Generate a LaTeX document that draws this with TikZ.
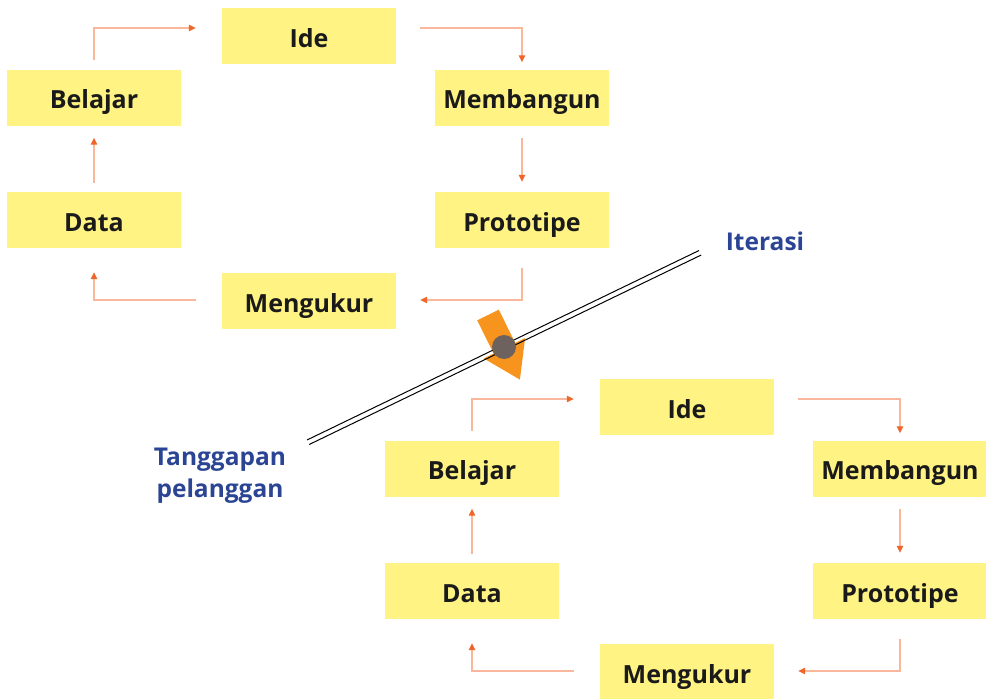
\documentclass[tikz,border=0pt]{standalone}
\usepackage{fontspec}
\setmainfont{Open Sans}
\usetikzlibrary{arrows.meta}
\definecolor{boxyellow}{HTML}{FFF383}
\definecolor{lineor}{HTML}{F9B89B}
\definecolor{tipor}{HTML}{F0662A}
\definecolor{bigor}{HTML}{F7941D}
\definecolor{dotgrey}{HTML}{6E625E}
\definecolor{lblue}{HTML}{2B4594}
\definecolor{txt}{HTML}{1A1A1A}
\tikzset{
  box/.style={fill=boxyellow, minimum width=174pt, minimum height=56pt, inner sep=0pt,
    text height=22pt, text depth=0pt,
    text=txt, font=\bfseries\fontsize{25}{28}\selectfont},
  flow/.style={draw=lineor, line width=1.2pt, -{Triangle[length=7pt,width=6.5pt,color=tipor]}},
  lbl/.style={text=lblue, font=\bfseries\fontsize{24.5}{32}\selectfont, align=center},
}
\begin{document}
\begin{tikzpicture}[x=1pt,y=-1pt]
\useasboundingbox (0,0) rectangle (986,699);
\foreach \dx/\dy/\s in {0/0/a, 378/371/b}{
  \begin{scope}[shift={(\dx,\dy)}]
    \node[box] (ide\s) at (309,36) {Ide};
    \node[box] (bel\s) at (94,97.5) {Belajar};
    \node[box] (mem\s) at (522,97.5) {Membangun};
    \node[box] (dat\s) at (94,220) {Data};
    \node[box] (pro\s) at (522,220) {Prototipe};
    \node[box] (men\s) at (309,301) {Mengukur};
    \draw[flow] ([yshift=9.5pt]bel\s.north) |- ([xshift=-26pt,yshift=8pt]ide\s.west);
    \draw[flow] ([xshift=24pt,yshift=8pt]ide\s.east) -| ([yshift=7pt]mem\s.north);
    \draw[flow] ([yshift=-12pt]mem\s.south) -- ([yshift=10pt]pro\s.north);
    \draw[flow] ([yshift=-20pt]pro\s.south) |- ([xshift=24pt,yshift=1pt]men\s.east);
    \draw[flow] ([xshift=-26pt,yshift=1pt]men\s.west) -| ([yshift=-24pt]dat\s.south);
    \draw[flow] ([yshift=9pt]dat\s.north) -- ([yshift=-12pt]bel\s.south);
  \end{scope}
}
% big orange arrow
\fill[bigor] (498.8,309.7) -- (515.2,342.9) -- (525.1,338.0) -- (519.9,379.6)
  -- (483.7,358.4) -- (493.6,353.5) -- (477.2,320.3) -- cycle;
% double line
\coordinate (la) at (307,440);
\coordinate (lb) at (699,250.5);
\draw[black, line width=1pt] (la) -- (lb);
\draw[black, line width=1pt] ([shift={(2.2,4.5)}]la) -- ([shift={(2.2,4.5)}]lb);
\fill[dotgrey] (504,347) circle (12);
\node[lbl] (iter) at (765,241) {Iterasi};
\node[lbl] (tang) at (220,476) {Tanggapan\\pelanggan};
\end{tikzpicture}
\end{document}
